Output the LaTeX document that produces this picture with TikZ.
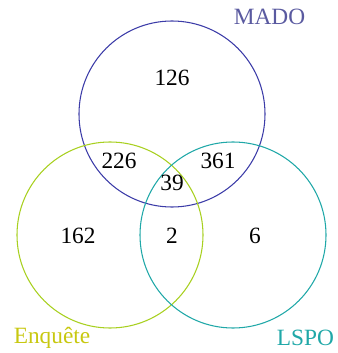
\documentclass[tikz,border=0pt]{standalone}
\usepackage{fontspec}
\setmainfont{Liberation Serif}
\definecolor{madoC}{HTML}{3C3CA8}
\definecolor{madoT}{HTML}{5A5AA0}
\definecolor{enqC}{HTML}{A8D020}
\definecolor{enqT}{HTML}{C8C810}
\definecolor{lspoC}{HTML}{20A8A8}
\begin{document}
\begin{tikzpicture}[x=0.75pt,y=-0.75pt,
  setcircle/.style={draw=#1,circle,minimum size=139.5pt,inner sep=0pt,line width=0.8pt},
  num/.style={font=\fontsize{17.5}{19}\selectfont,text=black},
  lab/.style={font=\fontsize{17.5}{19}\selectfont,text=#1}]
\useasboundingbox (0,0) rectangle (338,353);
\node[setcircle=madoC] (mado) at (172,114) {};
\node[setcircle=enqC] (enq) at (110,235) {};
\node[setcircle=lspoC] (lspo) at (233,235) {};
\node[lab=madoT] (lmado) at (269.5,17) {MADO};
\node[lab=enqT] (lenq) at (52,338) {Enquête};
\node[lab=lspoC] (llspo) at (305.5,338) {LSPO};
\node[num] (n126) at (172,78) {126};
\node[num] (n226) at (119,161) {226};
\node[num] (n361) at (218,161) {361};
\node[num] (n39) at (172,183) {39};
\node[num] (n162) at (78,236) {162};
\node[num] (n2) at (172,236) {2};
\node[num] (n6) at (255,236) {6};
\end{tikzpicture}
\end{document}
